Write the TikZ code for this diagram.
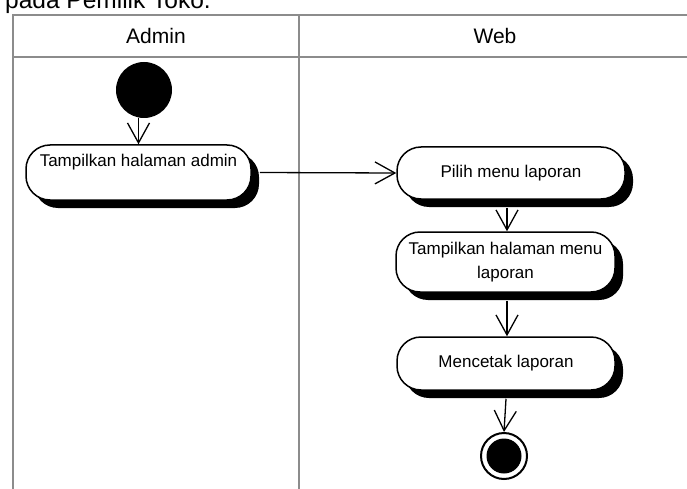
\documentclass[tikz,border=0pt]{standalone}
\usepackage{fontspec}
\setmainfont{Liberation Sans}
\usetikzlibrary{arrows.meta,shadows,calc}

\begin{document}
\begin{tikzpicture}[x=1pt,y=-1pt,
  lane/.style={draw=black!45,line width=2pt},
  lanehead/.style={font=\fontsize{21}{24}\selectfont,inner sep=0pt},
  action/.style={draw=black,line width=1.5pt,fill=white,rounded corners=24pt,
    inner sep=0pt,align=center,font=\fontsize{17}{24}\selectfont,
    drop shadow={shadow xshift=8pt,shadow yshift=-8pt,opacity=1,fill=black}},
  startnode/.style={circle,fill=black,minimum size=56pt,inner sep=0pt},
  endnode/.style={circle,draw=black,line width=2pt,fill=white,minimum size=46pt,inner sep=0pt},
  flow/.style={line width=1.3pt,-{Straight Barb[length=20pt,width=22pt,line width=1.3pt]}}
]
\useasboundingbox (0,0) rectangle (687,489);

% caption line cut by the page top
\node[anchor=base east,inner sep=0pt,font=\fontsize{24.5}{28}\selectfont] (cap) at (211,9) {pada Pemilik Toko.};

% swimlanes
\draw[lane] (13,489) -- (13,15) -- (687,15);
\draw[lane] (13,57) -- (687,57);
\draw[lane] (299,15) -- (299,489);
\node[lanehead] (hadmin) at (156,36) {Admin};
\node[lanehead] (hweb) at (495,36) {Web};

% activities
\node[startnode] (start) at (144,90) {};
\node[action,minimum width=225pt,minimum height=55pt] (a1) at (138.5,172.5) {Tampilkan halaman admin\\\mbox{}};
\node[action,minimum width=228pt,minimum height=52pt] (a2) at (511,173) {Pilih menu laporan};
\node[action,minimum width=219pt,minimum height=60pt] (a3) at (505.5,262) {Tampilkan halaman menu\\laporan};
\node[action,minimum width=218pt,minimum height=53pt] (a4) at (506,363.5) {Mencetak laporan};
\node[endnode] (end) at (504,456) {};
\node[circle,fill=black,minimum size=35pt,inner sep=0pt] (endin) at (end) {};

% control flows
\draw[flow] (start.south -| a1.north) -- (a1.north);
\draw[flow] ([xshift=8pt]a1.east) -- (a2.west);
\draw[flow] (a2.south -| a3.north) ++(1.5,8) -- ([xshift=1.5pt]a3.north);
\draw[flow] (a3.south -| a4.north) ++(1,8) -- ([xshift=1pt]a4.north);
\draw[flow] (a4.south) ++(0,8) -- (end.north);
\end{tikzpicture}
\end{document}
